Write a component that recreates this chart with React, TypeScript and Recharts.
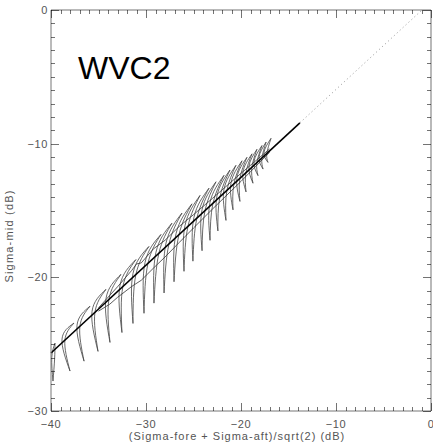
import React from 'react';
import { LineChart, Line, XAxis, YAxis } from 'recharts';

// hook curves, one per wind speed: top end, bulge point, bottom end (dB)
const hookTop = [
  [-39.58, -24.92], [-37.58, -23.42], [-35.89, -22.16], [-34.21, -20.9],
  [-32.63, -19.78], [-31.06, -18.67], [-29.69, -17.69], [-28.42, -16.79],
  [-27.27, -15.95], [-26.21, -15.19], [-25.16, -14.5], [-24.31, -13.87],
  [-23.37, -13.33], [-22.63, -12.85], [-21.79, -12.37], [-21.16, -11.97],
  [-20.53, -11.62], [-19.89, -11.28], [-19.37, -11.02], [-18.84, -10.76],
  [-18.32, -10.42], [-17.79, -10.14], [-17.36, -9.88], [-16.84, -9.6],
];
const hookMid = [
  [-39.92, -26.0], [-38.84, -24.62], [-37.26, -23.58], [-35.68, -22.55],
  [-34.21, -21.58], [-32.74, -20.61], [-31.37, -19.71], [-30.1, -18.88],
  [-28.95, -18.12], [-27.89, -17.43], [-26.84, -16.74], [-25.89, -16.11],
  [-24.95, -15.5], [-24.1, -14.94], [-23.26, -14.39], [-22.53, -13.91],
  [-21.79, -13.42], [-21.05, -12.93], [-20.42, -12.52], [-19.79, -12.11],
  [-19.16, -11.69], [-18.63, -11.34], [-18.1, -11.0], [-17.58, -10.65],
];
const hookBot = [
  [-39.79, -27.76], [-38.0, -27.01], [-36.52, -26.27], [-35.05, -25.54],
  [-33.79, -24.87], [-32.53, -24.13], [-31.37, -23.45], [-30.21, -22.69],
  [-29.16, -21.93], [-28.1, -21.17], [-27.05, -20.33], [-26.0, -19.55],
  [-25.06, -18.79], [-24.1, -18.01], [-23.26, -17.23], [-22.43, -16.53],
  [-21.58, -15.74], [-20.84, -14.95], [-20.11, -14.32], [-19.47, -13.61],
  [-18.74, -12.96], [-18.21, -12.39], [-17.68, -11.9], [-17.16, -11.4],
];

const mainLine = [{ x: -40, y: -25.66 }, { x: -13.8, y: -8.44 }];
const dottedLine = [{ x: -13.8, y: -8.44 }, { x: -0.95, y: 0 }];

const upperTrace = [
  { x: -35, y: -22.28 }, { x: -33, y: -20.71 }, { x: -31.5, y: -19.48 },
  { x: -31, y: -19.0 }, { x: -30.5, y: -18.92 }, { x: -29.2, y: -17.86 },
  { x: -28, y: -17.23 }, { x: -26.5, y: -16.19 }, { x: -25, y: -15.31 },
  { x: -23, y: -14.09 }, { x: -20, y: -12.22 }, { x: -17, y: -10.4 },
];
const lowerTrace = [
  { x: -35, y: -22.53 }, { x: -33.8, y: -22.0 }, { x: -33, y: -21.5 },
  { x: -31.5, y: -20.68 }, { x: -30.5, y: -20.22 }, { x: -29.2, y: -19.3 },
  { x: -28, y: -18.48 }, { x: -26.5, y: -17.39 }, { x: -25, y: -16.31 },
  { x: -23, y: -14.89 }, { x: -20, y: -12.82 }, { x: -17, y: -10.65 },
];

const xMajor = [-40, -30, -20, -10, 0];
const yMajor = [-30, -20, -10, 0];
const xMinor = Array.from({ length: 41 }, (_, i) => -40 + i);
const yMinor = Array.from({ length: 31 }, (_, i) => -30 + i);

const axisColor = '#777';
const labelColor = '#555';
const font = '"Liberation Sans", Arial, sans-serif';

// plot box used for the inward tick marks overlay
const plotLeft = 51;
const plotTop = 10;
const plotW = 380;
const plotH = 401;
const toPx = (v: number) => plotLeft + ((v + 40) / 40) * plotW;
const toPy = (v: number) => plotTop + (-v / 30) * plotH;

const fmt = (v: number) => (v < 0 ? '\u2212' + Math.abs(v) : String(v));

const BottomLabel = (props: any) => (
  <text x={props.x} y={props.y + 17} textAnchor="middle" fontSize={11} letterSpacing={0.6}
    fill={labelColor} fontFamily={font}>{fmt(props.payload.value)}</text>
);
const LeftLabel = (props: any) => (
  <text x={props.x - 3} y={props.y + 4} textAnchor="end" fontSize={11} letterSpacing={0.6}
    fill={labelColor} fontFamily={font}>{fmt(props.payload.value)}</text>
);

const seg = (key: string, data: any[], stroke: string, width: number, dash?: string) => (
  <Line key={key} xAxisId="b" yAxisId="l" data={data} dataKey="y" type="linear" stroke={stroke}
    strokeWidth={width} strokeDasharray={dash} dot={false} isAnimationActive={false} />
);

function Frame() {
  const parts: string[] = [];
  parts.push('M ' + plotLeft + ' ' + plotTop + ' L ' + (plotLeft + plotW) + ' ' + plotTop + ' L ' + (plotLeft + plotW) + ' ' + (plotTop + plotH));
  for (const v of xMinor) {
    const len = xMajor.indexOf(v) >= 0 ? 8 : 4;
    const x = Math.round(toPx(v)) + 0.5;
    parts.push('M ' + x + ' ' + (plotTop + plotH) + ' L ' + x + ' ' + (plotTop + plotH - len));
    parts.push('M ' + x + ' ' + plotTop + ' L ' + x + ' ' + (plotTop + len));
  }
  for (const v of yMinor) {
    const len = yMajor.indexOf(v) >= 0 ? 8 : 4;
    const y = Math.round(toPy(v)) + 0.5;
    parts.push('M ' + plotLeft + ' ' + y + ' L ' + (plotLeft + len) + ' ' + y);
    parts.push('M ' + (plotLeft + plotW) + ' ' + y + ' L ' + (plotLeft + plotW - len) + ' ' + y);
  }
  return (
    <svg width={433} height={447} viewBox="0 0 433 447"
      style={{ position: 'absolute', left: 0, top: 0, zIndex: 5, pointerEvents: 'none' }}>
      <path d={parts.join(' ')} stroke="#000" strokeOpacity={0.55} strokeWidth={1} fill="none" />
    </svg>
  );
}

export default function App() {
  return (
    <div style={{ position: 'absolute', left: 0, top: 0, width: 433, height: 447, background: '#fff' }}>
      <LineChart width={433} height={447} margin={{ top: 10, right: 2, bottom: 0, left: 0 }}>
        <XAxis xAxisId="b" type="number" dataKey="x" domain={[-40, 0]} ticks={xMajor} interval={0}
          height={36} tickSize={0} tickMargin={0} stroke={axisColor} tick={BottomLabel} />
        <YAxis yAxisId="l" type="number" dataKey="y" domain={[-30, 0]} ticks={yMajor} interval={0}
          width={51} tickSize={0} tickMargin={0} stroke={axisColor} tick={LeftLabel} />

        {hookTop.map((t, i) => {
          const m = hookMid[i];
          const b = hookBot[i];
          const outer = [{ x: t[0], y: t[1] }, { x: m[0], y: m[1] }, { x: b[0], y: b[1] }];
          const inner = [{ x: t[0], y: t[1] }, { x: m[0] + 0.3, y: m[1] - 0.1 }, { x: b[0], y: b[1] }];
          return [
            <Line key={'o' + i} xAxisId="b" yAxisId="l" data={outer} dataKey="y" type="natural"
              stroke="#444" strokeWidth={0.8} dot={false} isAnimationActive={false} />,
            <Line key={'n' + i} xAxisId="b" yAxisId="l" data={inner} dataKey="y" type="natural"
              stroke="#444" strokeWidth={0.8} dot={false} isAnimationActive={false} />,
          ];
        })}

        {seg('up', upperTrace, '#333', 0.8)}
        {seg('lo', lowerTrace, '#333', 0.8)}
        {seg('main', mainLine, '#000', 1.6)}
        {seg('dot', dottedLine, '#777', 0.8, '1 3')}
      </LineChart>

      <Frame />

      <div style={{ position: 'absolute', left: 78, top: 48, fontFamily: font, fontSize: 32, color: '#000', lineHeight: '40px' }}>
        WVC2
      </div>
      <div style={{ position: 'absolute', left: 237, top: 436, transform: 'translate(-50%, -50%)', fontFamily: font,
        fontSize: 11, letterSpacing: 1, color: labelColor, whiteSpace: 'nowrap' }}>
        (Sigma-fore + Sigma-aft)/sqrt(2) (dB)
      </div>
      <div style={{ position: 'absolute', left: 9, top: 236, fontFamily: font, fontSize: 11, letterSpacing: 1.2,
        color: labelColor, whiteSpace: 'nowrap', transform: 'translate(-50%, -50%) rotate(-90deg)' }}>
        Sigma-mid (dB)
      </div>
    </div>
  );
}
